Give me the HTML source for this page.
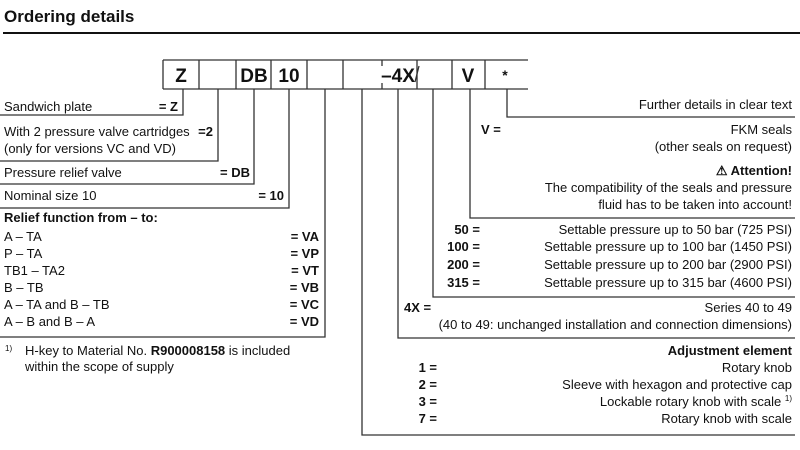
<!DOCTYPE html>
<html><head><meta charset="utf-8"><style>
html,body{margin:0;padding:0;background:#fff;}
svg{display:block;}
text{font-family:"Liberation Sans",Arial,sans-serif;font-size:13px;fill:#111;}
.b{font-weight:bold;}
.r{text-anchor:end;}
.c{text-anchor:middle;}
</style></head><body>
<svg width="800" height="450" viewBox="0 0 800 450">
<text x="4" y="22" style="font-size:17px;font-weight:bold">Ordering details</text>
<line x1="3" y1="33" x2="800" y2="33" stroke="#111" stroke-width="2"/>
<g stroke="#333" stroke-width="1.3" fill="none">
<line x1="163" y1="60" x2="528" y2="60"/>
<line x1="163" y1="89" x2="528" y2="89"/>
<line x1="163" y1="60" x2="163" y2="89"/>
<line x1="199" y1="60" x2="199" y2="89"/>
<line x1="236" y1="60" x2="236" y2="89"/>
<line x1="271" y1="60" x2="271" y2="89"/>
<line x1="307" y1="60" x2="307" y2="89"/>
<line x1="343" y1="60" x2="343" y2="89"/>
<line x1="452" y1="60" x2="452" y2="89"/>
<line x1="485" y1="60" x2="485" y2="89"/>
<line x1="382" y1="60" x2="382" y2="66"/>
<line x1="382" y1="83" x2="382" y2="89"/>
<line x1="417" y1="60" x2="417" y2="89"/>
<line x1="415" y1="82" x2="419" y2="66"/>
<polyline points="183,89 183,115 0,115"/>
<polyline points="218,89 218,161 0,161"/>
<polyline points="254,89 254,184 0,184"/>
<polyline points="289,89 289,208 0,208"/>
<polyline points="325,89 325,337 0,337"/>
<polyline points="362,89 362,435 795,435"/>
<polyline points="398,89 398,338 795,338"/>
<polyline points="433,89 433,297 795,297"/>
<polyline points="470,89 470,218 795,218"/>
<polyline points="507,89 507,117 795,117"/>
</g>
<text x="181" y="82" class="c b" style="font-size:19px">Z</text>
<text x="254" y="82" class="c b" style="font-size:19px">DB</text>
<text x="289" y="82" class="c b" style="font-size:19px">10</text>
<text x="398" y="82" class="c b" style="font-size:19px">–4X</text>
<text x="468" y="82" class="c b" style="font-size:19px">V</text>
<text x="505" y="80" class="c b" style="font-size:14px">*</text>

<text x="4" y="111">Sandwich plate</text><text x="178" y="111" class="r b">= Z</text>
<text x="4" y="136">With 2 pressure valve cartridges</text><text x="213" y="136" class="r b">=2</text>
<text x="4" y="153">(only for versions VC and VD)</text>
<text x="4" y="177">Pressure relief valve</text><text x="250" y="177" class="r b">= DB</text>
<text x="4" y="200">Nominal size 10</text><text x="284" y="200" class="r b">= 10</text>
<text x="4" y="222" class="b">Relief function from – to:</text>
<text x="4" y="241">A – TA</text><text x="319" y="241" class="r b">= VA</text>
<text x="4" y="258">P – TA</text><text x="319" y="258" class="r b">= VP</text>
<text x="4" y="275">TB1 – TA2</text><text x="319" y="275" class="r b">= VT</text>
<text x="4" y="292">B – TB</text><text x="319" y="292" class="r b">= VB</text>
<text x="4" y="309">A – TA and B – TB</text><text x="319" y="309" class="r b">= VC</text>
<text x="4" y="326">A – B and B – A</text><text x="319" y="326" class="r b">= VD</text>
<text x="5" y="351" style="font-size:8px">1)</text>
<text x="25" y="355">H-key to Material No. <tspan class="b">R900008158</tspan> is included</text>
<text x="25" y="371">within the scope of supply</text>

<text x="792" y="109" class="r">Further details in clear text</text>
<text x="481" y="134" class="b">V =</text><text x="792" y="134" class="r">FKM seals</text>
<text x="792" y="151" class="r">(other seals on request)</text>
<text x="792" y="175" class="r b">⚠ Attention!</text>
<text x="792" y="192" class="r">The compatibility of the seals and pressure</text>
<text x="792" y="209" class="r">fluid has to be taken into account!</text>
<text x="480" y="234" class="r b">50 =</text><text x="792" y="234" class="r">Settable pressure up to 50 bar (725 PSI)</text>
<text x="480" y="251" class="r b">100 =</text><text x="792" y="251" class="r">Settable pressure up to 100 bar (1450 PSI)</text>
<text x="480" y="269" class="r b">200 =</text><text x="792" y="269" class="r">Settable pressure up to 200 bar (2900 PSI)</text>
<text x="480" y="287" class="r b">315 =</text><text x="792" y="287" class="r">Settable pressure up to 315 bar (4600 PSI)</text>
<text x="404" y="312" class="b">4X =</text><text x="792" y="312" class="r">Series 40 to 49</text>
<text x="792" y="329" class="r">(40 to 49: unchanged installation and connection dimensions)</text>
<text x="792" y="355" class="r b">Adjustment element</text>
<text x="437" y="372" class="r b">1 =</text><text x="792" y="372" class="r">Rotary knob</text>
<text x="437" y="389" class="r b">2 =</text><text x="792" y="389" class="r">Sleeve with hexagon and protective cap</text>
<text x="437" y="406" class="r b">3 =</text><text x="792" y="406" class="r">Lockable rotary knob with scale <tspan style="font-size:8px" dy="-5">1)</tspan></text>
<text x="437" y="423" class="r b">7 =</text><text x="792" y="423" class="r">Rotary knob with scale</text>
</svg>
</body></html>
